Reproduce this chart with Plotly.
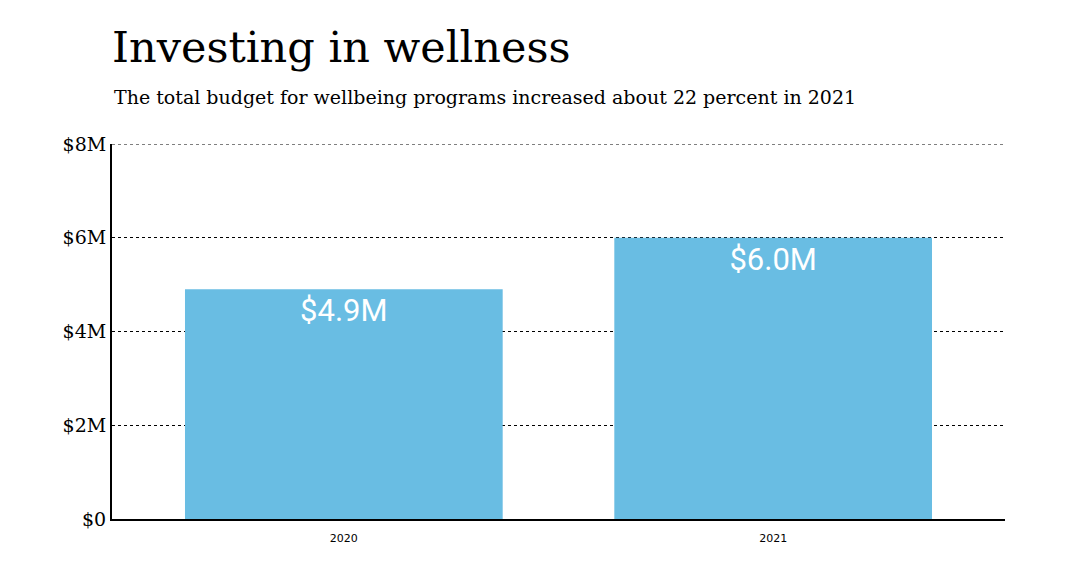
import plotly.graph_objects as go

years = ["2020", "2021"]
budget = [4.9, 6.0]
labels = ["$4.9M", "$6.0M"]
tick_vals = [0, 2, 4, 6, 8]
tick_text = ["$0", "$2M", "$4M", "$6M", "$8M"]

fig = go.Figure()
fig.add_trace(go.Bar(
    x=years, y=budget, text=labels,
    textposition="inside", insidetextanchor="end",
    textfont=dict(family="Roboto", size=31, color="white"),
    marker=dict(color="#69BDE3", line=dict(width=0)),
    hoverinfo="skip",
))

fig.update_layout(
    width=1064, height=559,
    margin=dict(l=104, r=67, t=136, b=48),
    paper_bgcolor="white", plot_bgcolor="white",
    bargap=0.26,
    showlegend=False,
    annotations=[
        dict(text="Investing in wellness", x=0, xref="paper", y=1, yref="paper",
             xanchor="left", yanchor="bottom", yshift=70, xshift=-2, showarrow=False,
             font=dict(family="DejaVu Serif", size=43, color="black")),
        dict(text="The total budget for wellbeing programs increased about 22 percent in 2021",
             x=0, xref="paper", y=1, yref="paper", xanchor="left", yanchor="bottom",
             yshift=34, showarrow=False,
             font=dict(family="DejaVu Serif", size=19, color="black")),
    ],
    shapes=[
        dict(type="line", xref="paper", x0=0, x1=1, yref="y",
             y0=tick_vals[-1], y1=tick_vals[-1],
             line=dict(color="black", width=1, dash="dot"), layer="below"),
    ],
)
fig.update_xaxes(
    range=[-0.54, 1.54],
    showline=True, linecolor="black", linewidth=2, ticks="",
    ticklabelstandoff=8,
    tickfont=dict(family="DejaVu Sans", size=11, color="black"),
    showgrid=False,
)
fig.update_yaxes(
    range=[0, 8], tickvals=tick_vals, ticktext=tick_text,
    showline=True, linecolor="black", linewidth=2,
    showgrid=True, gridcolor="black", gridwidth=1, griddash="dot",
    zeroline=False,
    tickfont=dict(family="DejaVu Serif", size=19, color="black"),
)

fig.write_html("out.html")
